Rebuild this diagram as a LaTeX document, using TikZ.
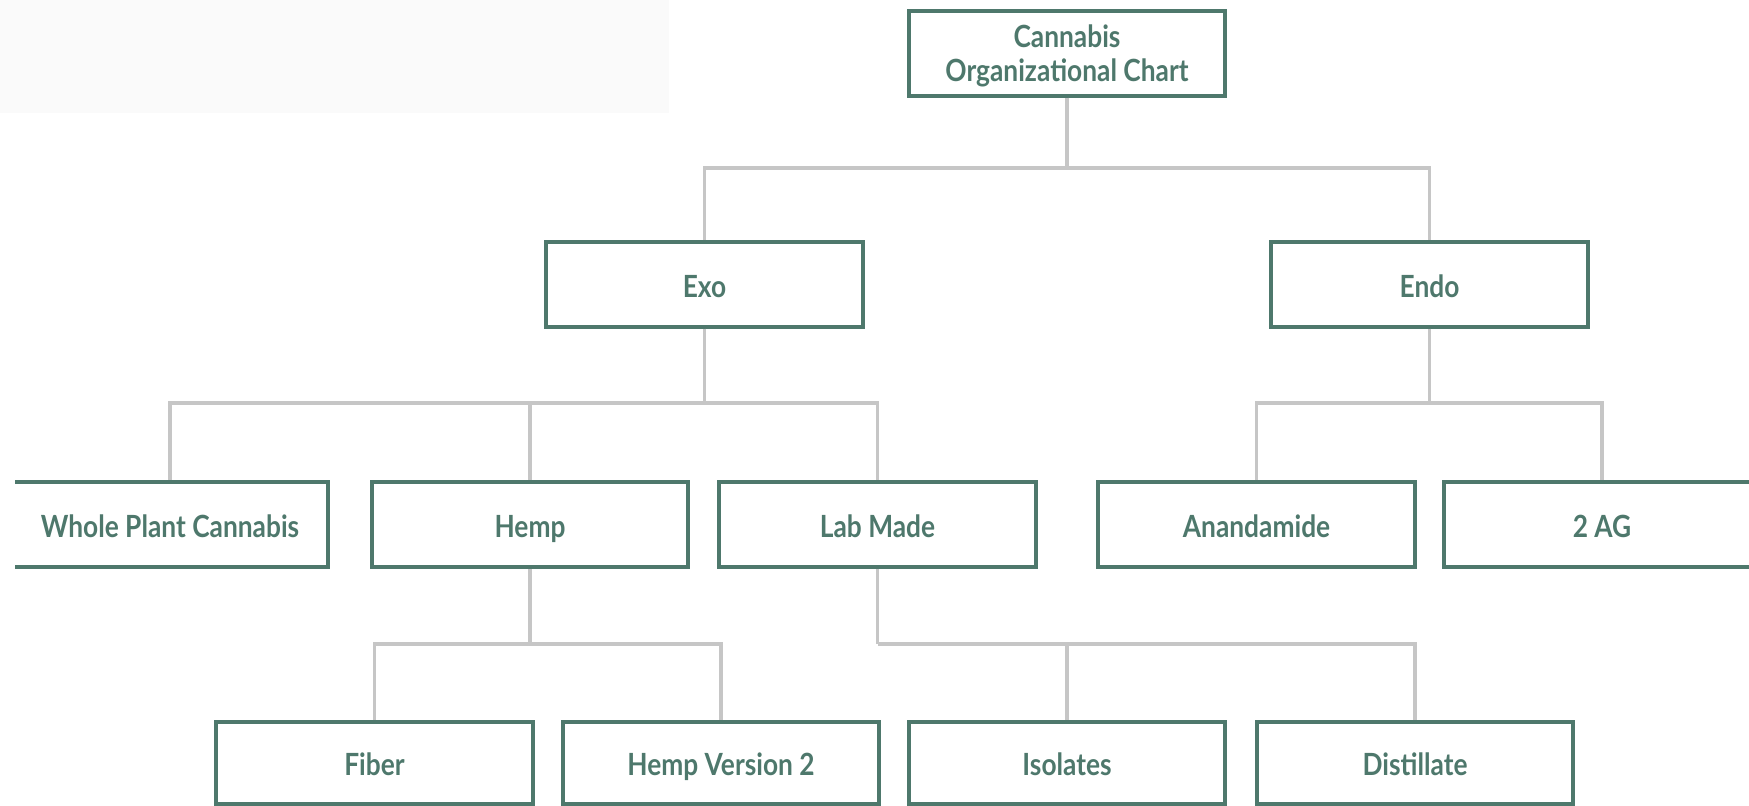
\documentclass[tikz,border=0pt]{standalone}
\usepackage{fontspec}
\setmainfont[FakeStretch=0.86]{Lato}
\usepackage{tikz}
\usetikzlibrary{positioning}

\definecolor{sage}{HTML}{4E786C}
\definecolor{wire}{HTML}{C6C6C6}
\definecolor{pale}{HTML}{FAFAFA}

\begin{document}
\begin{tikzpicture}
  [
  x = 0.01cm, y = -0.01cm,
  % box
  box/.style = {rectangle, draw = sage, line width = 0.04cm,
    text = sage, font = \bfseries\fontsize{8.7}{9.5}\selectfont,
    align = center, inner sep = 0pt,
    text height = 0.717em, text depth = 0pt,
    minimum width = 3.16cm, minimum height = 0.84cm},
  % line
  line/.style = {draw = wire, line width = 0.035cm},
  ]

  \useasboundingbox (0,0) rectangle (1749,805);
  \fill [pale] (0,0) rectangle (669,113);

  \begin{scope}
  \clip (15,-10) rectangle (1760,815);

  % nodes
  \node [box, text height = 15.74pt] (chart) at (1067,53.5) {Cannabis\\Organizational Chart};
  \node [box] (exo) at (704.5,284.5) {Exo};
  \node [box] (endo) at (1429.5,284.5) {Endo};
  \node [box, minimum height = 0.85cm] (whole) at (170,524.5) {Whole Plant Cannabis};
  \node [box, minimum height = 0.85cm] (hemp) at (530,524.5) {Hemp};
  \node [box, minimum height = 0.85cm] (lab) at (877.5,524.5) {Lab Made};
  \node [box, minimum height = 0.85cm] (anand) at (1256.5,524.5) {Anandamide};
  \node [box, minimum height = 0.85cm] (twoag) at (1602,524.5) {2 AG};
  \node [box, minimum height = 0.82cm] (fiber) at (374.5,763) {Fiber};
  \node [box, minimum height = 0.82cm] (hemptwo) at (721,763) {Hemp Version 2};
  \node [box, minimum height = 0.82cm] (iso) at (1067,763) {Isolates};
  \node [box, minimum height = 0.82cm] (dist) at (1415,763) {Distillate};

  % junctions
  \coordinate (jchart) at (chart.south |- 0,168);
  \coordinate (jexo) at (exo.south |- 0,403);
  \coordinate (jendo) at (endo.south |- 0,403);
  \coordinate (jhemp) at (hemp.south |- 0,644);
  \coordinate (jlab) at (lab.south |- 0,644);

  % path
  \path [line] (chart) -- (jchart);
  \path [line] (jchart) -| (exo);
  \path [line] (jchart) -| (endo);
  \path [line] (exo) -- (jexo);
  \path [line] (jexo) -| (whole);
  \path [line] (jexo) -| (hemp);
  \path [line] (jexo) -| (lab);
  \path [line] (endo) -- (jendo);
  \path [line] (jendo) -| (anand);
  \path [line] (jendo) -| (twoag);
  \path [line] (hemp) -- (jhemp);
  \path [line] (jhemp) -| (fiber);
  \path [line] (jhemp) -| (hemptwo);
  \path [line] (lab) -- (jlab);
  \path [line] (jlab) -| (iso);
  \path [line] (jlab) -| (dist);
  \end{scope}

\end{tikzpicture}
\end{document}
